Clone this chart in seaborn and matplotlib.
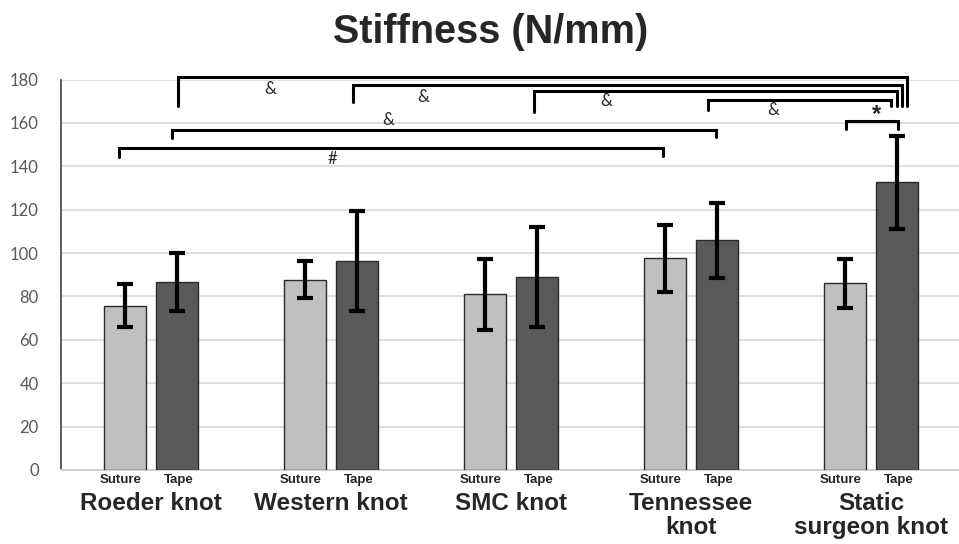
import numpy as np
import pandas as pd
import matplotlib
matplotlib.use("Agg")
import matplotlib.pyplot as plt
import matplotlib.transforms as mtransforms
import seaborn as sns

# --- data ---
knots = ["Roeder knot", "Western knot", "SMC knot", "Tennessee knot", "Static surgeon knot"]
knot_labels = ["Roeder knot", "Western knot", "SMC knot", "Tennessee\nknot", "Static\nsurgeon knot"]
materials = ["Suture", "Tape"]
suture_mean = [75.7, 87.7, 80.9, 97.5, 86.0]
suture_sd = [9.9, 8.6, 16.3, 15.6, 11.4]
tape_mean = [86.8, 96.3, 88.9, 106.0, 132.6]
tape_sd = [13.3, 23.0, 23.2, 17.3, 21.3]

# significance brackets: (x_left, x_right, y_bar, left_leg_end, right_leg_end, label, label_x, label_y)
brackets = [
    (0.149, 4.199, 181.2, 168.0, 168.0, "&", 0.664, 175.7),
    (1.121, 4.171, 177.5, 169.5, 168.0, "&", 1.510, 172.0),
    (2.125, 4.143, 174.9, 164.9, 168.0, "&", 2.529, 170.0),
    (3.097, 4.110, 170.7, 166.1, 167.7, "&", 3.454, 166.0),
    (3.860, 4.149, 161.0, 157.0, 157.0, "*", 4.029, 164.0),
    (0.119, 3.138, 156.9, 153.0, 153.3, "&", 1.319, 161.2),
    (-0.177, 2.843, 148.3, 144.4, 144.6, "#", 1.010, 143.4),
]

df = pd.DataFrame({
    "knot": knots * 2,
    "material": ["Suture"] * 5 + ["Tape"] * 5,
    "stiffness": suture_mean + tape_mean,
})

sns.set_style("white")
plt.rcParams["font.family"] = ["Liberation Sans", "DejaVu Sans"]

fig = plt.figure(figsize=(9.59, 5.44), dpi=100)
ax = fig.add_axes([61 / 959, 74 / 544, 900 / 959, 390.5 / 544])

sns.barplot(data=df, x="knot", y="stiffness", hue="material", order=knots,
            hue_order=materials, palette=["#c0c0c0", "#595959"],
            width=0.574, gap=0.193, errorbar=None, edgecolor="#2b2b2b",
            linewidth=1.0, legend=False, ax=ax, zorder=3)

trans = mtransforms.blended_transform_factory(ax.transData, ax.transAxes)
for cont, means, sds, lab in zip(ax.containers, [suture_mean, tape_mean],
                                 [suture_sd, tape_sd], materials):
    xs = [b.get_x() + b.get_width() / 2 for b in cont]
    ax.errorbar(xs, means, yerr=sds, fmt="none", ecolor="black",
                elinewidth=3, capsize=6, capthick=3, zorder=4)
    shift = -0.025 if lab == "Suture" else 0.012
    for x in xs:
        ax.text(x + shift, -0.011, lab, transform=trans,
                ha="center", va="top", fontsize=9.5, fontweight="bold",
                family=["Liberation Sans Narrow", "Liberation Sans"])

ax.set_xlim(-0.5, 4.5)
ax.set_ylim(0, 180)
ax.set_yticks(np.arange(0, 181, 20))
ax.set_yticks(np.arange(0, 181, 10), minor=True)
ax.yaxis.grid(True, which="major", color="#d9d9d9", linewidth=1.2, zorder=0)
ax.set_axisbelow(True)
ax.tick_params(axis="y", which="both", direction="in", length=4.5, width=1.2,
               color="#595959", labelsize=12, labelcolor="#595959", pad=16)
for t in ax.get_yticklabels():
    t.set_family(["Lato", "DejaVu Sans"])

ax.set_xticks(range(len(knots)))
ax.set_xticklabels(knot_labels, fontsize=17.5, fontweight="bold", linespacing=1.1)
ax.tick_params(axis="x", length=0, pad=15.5)
ax.set_xlabel("")
ax.set_ylabel("")

sns.despine(ax=ax, top=True, right=True)
ax.spines["left"].set_color("#404040")
ax.spines["left"].set_linewidth(1.2)
ax.spines["bottom"].set_color("#d0d0d0")
ax.spines["bottom"].set_linewidth(1.5)

for x1, x2, yb, l1, l2, lab, lx, ly in brackets:
    ax.plot([x1, x1, x2, x2], [l1, yb, yb, l2], color="black", lw=2.2,
            clip_on=False, solid_joinstyle="miter", zorder=5)
    if lab == "*":
        ax.text(lx, ly, lab, ha="center", va="center", fontsize=17, fontweight="bold", clip_on=False)
    else:
        ax.text(lx, ly, lab, ha="center", va="center", fontsize=12,
                family=["Lato", "DejaVu Sans"], clip_on=False)

fig.text(491 / 959, 1 - 32 / 544, "Stiffness (N/mm)", ha="center", va="center",
         fontsize=28.5, fontweight="bold")

fig.savefig("out.png", dpi=100)
